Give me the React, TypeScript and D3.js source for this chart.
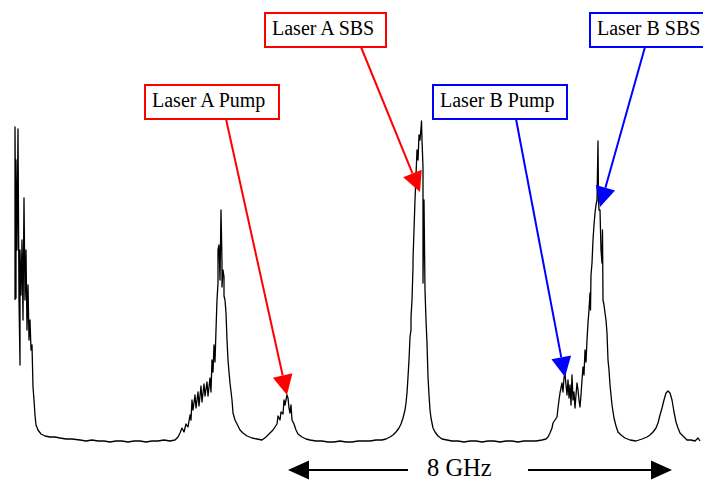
import React, { useEffect, useRef } from "react";
import * as d3 from "d3";

// scope trace of the scanning Fabry-Perot: time (us) vs detector signal (a.u.)
const traceTime = [
  7.5, 7.5, 8, 8, 8.5, 9, 9.5, 10, 10, 10.5, 11, 11.5, 12, 12.5, 13, 13.5, 14, 14.5, 15, 15.5,
  16, 16.5, 17, 17.5, 18, 19, 20.5, 22.5, 25, 27.5, 30, 33, 36, 40, 43, 46, 49, 52, 55, 58,
  61, 64, 67, 70, 73, 76, 79, 82, 85, 87.5, 89, 90, 91, 92, 93, 94, 95, 95.5, 96, 96.5,
  97.5, 98, 99, 99.5, 100.5, 101, 102, 102.5, 103.5, 104, 105, 105.5, 106, 106.5, 107, 107.5, 108, 108.5, 109, 109,
  109.5, 110, 110.5, 111, 111, 111.5, 112, 112, 112.5, 113, 113.5, 114, 114.5, 115, 116, 116.5, 117.5, 118.5, 120, 121.5,
  123.5, 126, 128.5, 131, 133, 135, 136.5, 137.5, 138.5, 139, 140, 140.5, 141.5, 142, 142.5, 143.5, 144, 144.5, 145, 145.5,
  146, 147, 148, 149, 151, 153, 155, 158, 161, 164, 167, 170, 173, 176, 179, 182, 185, 188, 191, 193,
  195, 196.5, 198, 199.5, 200.5, 201.5, 202.5, 203, 203.5, 204, 204.5, 205, 205.5, 205.5, 206, 206.5, 206.5, 207, 207.5, 208,
  208.5, 209, 209.5, 210, 210.5, 210.75, 211, 211.5, 211.5, 212, 212.5, 213, 213.5, 214, 214.5, 215, 215.5, 216.5, 217.5, 219,
  221, 223.5, 226, 229, 232, 235, 238, 241, 244, 247, 250, 253, 256, 259, 262, 265, 268, 271, 273, 274,
  275, 276, 276.5, 277.5, 278.5, 279, 279.5, 280, 280.5, 281, 281.5, 282, 282.5, 283, 283.5, 284, 284.5, 285, 285.5, 286,
  286.5, 287, 287.5, 288, 288.5, 289, 289.5, 290, 290.5, 291, 291.5, 292, 292.5, 293, 293.5, 294, 294.5, 295, 295.25, 295.5,
  296, 296.5, 297, 297.5, 298, 298.5, 299, 299.25, 299.5, 300, 300.5, 301, 301.25, 301.5, 302, 302.5, 303, 303.5, 304, 304.5,
  305, 306, 307, 308, 309, 310.5, 312.5, 315, 318, 321, 323.5, 325, 326.5, 328, 329, 330, 331, 332, 333, 334,
  335, 336, 337, 338, 339, 340, 341.5, 343.5, 345.5, 347.5, 349, 350
];
const traceSignal = [
  142, 315, 144, 282, 192, 313, 142, 77, 192, 147, 202, 122, 244, 142, 192, 112, 157, 102, 122, 92,
  97, 55, 42, 27, 17, 12, 8, 6, 5, 5, 4, 3, 3, 2, 1, 2, 1, 1, 0, 1,
  1, 0, 1, 1, 0, 1, 1, 2, 1, 2, 5, 9, 14, 10, 18, 15, 27, 22, 42, 32,
  47, 34, 50, 36, 56, 40, 58, 46, 60, 46, 64, 50, 82, 70, 97, 80, 112, 142, 159, 192,
  197, 162, 232, 180, 155, 172, 165, 146, 142, 129, 102, 82, 70, 59, 42, 29, 22, 18, 12, 9,
  6, 4, 3, 2, 5, 9, 12, 15, 18, 26, 22, 30, 28, 42, 37, 47, 44, 34, 29, 37,
  22, 18, 12, 8, 5, 3, 2, 1, 1, 0, 0, 1, 0, 0, 1, 1, 1, 2, 2, 3,
  5, 7, 10, 14, 18, 24, 32, 39, 49, 65, 82, 105, 112, 125, 142, 175, 182, 212, 242, 267,
  292, 282, 307, 302, 314, 321, 302, 275, 159, 242, 152, 122, 99, 65, 47, 32, 24, 14, 10, 6,
  3, 2, 1, 1, 0, 1, 1, 0, 1, 1, 0, 1, 1, 0, 1, 1, 1, 2, 3, 5,
  9, 14, 19, 22, 25, 34, 42, 49, 54, 59, 50, 64, 69, 57, 47, 62, 44, 57, 37, 67,
  42, 50, 34, 47, 59, 52, 42, 35, 47, 62, 75, 67, 92, 80, 102, 119, 132, 149, 132, 167,
  179, 202, 217, 229, 237, 242, 301, 242, 232, 232, 192, 179, 212, 142, 137, 129, 122, 109, 82, 72,
  57, 37, 24, 16, 10, 7, 4, 2, 1, 3, 5, 7, 10, 14, 19, 27, 34, 42, 49, 51,
  49, 42, 30, 20, 14, 9, 6, 2, 2, 1, 4, 1
];

// sweep calibration: pump A to the next order spans 8 GHz
const spanTime = [144, 336];
const spanLabel = "8 GHz";

const labels = ["Laser A Pump", "Laser A SBS", "Laser B Pump", "Laser B SBS"];
const labelColors = ["#ff0000", "#ff0000", "#0000ff", "#0000ff"];
const targetTime = [143.5, 210, 282.5, 300];
const targetSignal = [47, 250, 65, 235];

// label box layout (px)
const boxes = [
  { x: 145, y: 85, w: 134, h: 34, ax: 226, ay: 119 },
  { x: 265, y: 13, w: 121, h: 34, ax: 361, ay: 47 },
  { x: 433, y: 85, w: 134, h: 34, ax: 516, ay: 119 },
  { x: 590, y: 13, w: 121, h: 34, ax: 645, ay: 47 }
];

const serif = "'Liberation Serif', 'Times New Roman', Times, serif";

export default function App() {
  const ref = useRef(null);

  useEffect(() => {
    const el = ref.current;
    if (!el) return;
    const width = 703,
      height = 481;

    const x = d3.scaleLinear().domain([0, 351.5]).range([0, width]);
    const y = d3.scaleLinear().domain([0, 330]).range([442, 112]);

    const svg = d3
      .select(el)
      .append("svg")
      .attr("width", width)
      .attr("height", height)
      .style("position", "absolute")
      .style("left", 0)
      .style("top", 0)
      .style("background", "#fff");

    const pts = traceTime.map((t, i) => [t, traceSignal[i]]);
    const line = d3
      .line()
      .x(d => x(d[0]))
      .y(d => y(d[1]));

    svg
      .append("path")
      .datum(pts)
      .attr("d", line)
      .attr("fill", "none")
      .attr("stroke", "#000")
      .attr("stroke-width", 1.3)
      .attr("stroke-linejoin", "round");

    // arrow helper: line plus filled triangle head
    const arrow = (x1, y1, x2, y2, color, len, half, lw) => {
      const a = Math.atan2(y2 - y1, x2 - x1);
      const bx = x2 - len * Math.cos(a),
        by = y2 - len * Math.sin(a);
      svg
        .append("line")
        .attr("x1", x1)
        .attr("y1", y1)
        .attr("x2", bx)
        .attr("y2", by)
        .attr("stroke", color)
        .attr("stroke-width", lw);
      const px = -Math.sin(a) * half,
        py = Math.cos(a) * half;
      svg
        .append("path")
        .attr("d", `M${x2},${y2}L${bx + px},${by + py}L${bx - px},${by - py}Z`)
        .attr("fill", color);
    };

    labels.forEach((txt, i) => {
      const b = boxes[i];
      svg
        .append("rect")
        .attr("x", b.x)
        .attr("y", b.y)
        .attr("width", b.w)
        .attr("height", b.h)
        .attr("fill", "#fff")
        .attr("stroke", labelColors[i])
        .attr("stroke-width", 2);
      svg
        .append("text")
        .attr("x", b.x + 7)
        .attr("y", b.y + 22)
        .attr("font-family", serif)
        .attr("font-size", 20)
        .attr("fill", "#000")
        .text(txt);
      arrow(b.ax, b.ay, x(targetTime[i]), y(targetSignal[i]), labelColors[i], 20, 10, 2);
    });

    // frequency span marker
    const sy = 470;
    const x0 = x(spanTime[0]),
      x1 = x(spanTime[1]);
    arrow(408, sy, x0, sy, "#000", 21, 9.5, 2);
    arrow(528, sy, x1, sy, "#000", 21, 9.5, 2);
    svg
      .append("text")
      .attr("x", 427)
      .attr("y", 475.5)
      .attr("font-family", serif)
      .attr("font-size", 24.5)
      .attr("fill", "#000")
      .text(spanLabel);

    return () => {
      d3.select(el).select("svg").remove();
    };
  }, []);

  return <div ref={ref} />;
}
